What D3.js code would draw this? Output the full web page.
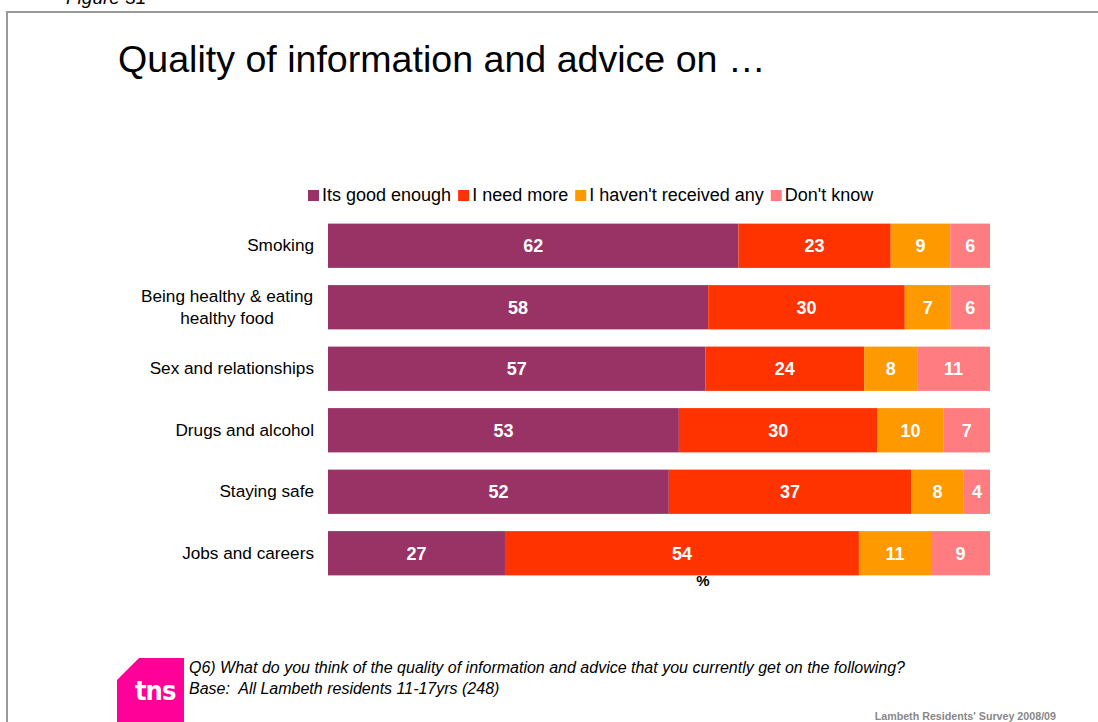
<!DOCTYPE html>
<html>
<head>
<meta charset="utf-8">
<script src="https://cdn.jsdelivr.net/npm/d3@7"></script>
<style>
  html, body { margin: 0; padding: 0; background: #fff; }
  svg { display: block; font-family: "Liberation Sans", Arial, sans-serif; }
  .pre { white-space: pre; }
</style>
</head>
<body>
<svg id="chart" width="1098" height="722"></svg>
<script>
// Survey topics, top to bottom
const categories = [
  "Smoking",
  "Being healthy & eating healthy food",
  "Sex and relationships",
  "Drugs and alcohol",
  "Staying safe",
  "Jobs and careers"
];

// Response options (stack order, left to right)
const responses = ["Its good enough", "I need more", "I haven't received any", "Don't know"];

// Percentages per response, in category order
const goodEnough   = [62, 58, 57, 53, 52, 27];
const needMore     = [23, 30, 24, 30, 37, 54];
const notReceived  = [9, 7, 8, 10, 8, 11];
const dontKnow     = [6, 6, 11, 7, 4, 9];

const colors = ["#993366", "#FF3300", "#FF9900", "#FF7C80"];

const seriesValues = [goodEnough, needMore, notReceived, dontKnow];
const rows = categories.map((c, i) => {
  const r = { category: c };
  responses.forEach((k, j) => { r[k] = seriesValues[j][i]; });
  return r;
});

const svg = d3.select("#chart");

// Page frame and figure caption
svg.append("text")
  .attr("x", 66).attr("y", 4)
  .attr("font-size", 19).attr("font-style", "italic").attr("fill", "#000")
  .text("Figure 31");
svg.append("rect")
  .attr("x", 7).attr("y", 12).attr("width", 1110).attr("height", 740)
  .attr("fill", "none").attr("stroke", "#999").attr("stroke-width", 2);

// Title
svg.append("text")
  .attr("x", 118).attr("y", 72)
  .attr("font-size", 37.6).attr("fill", "#000")
  .text("Quality of information and advice on \u2026");

// Scales
const x = d3.scaleLinear().domain([0, 1]).range([328, 990]);
const y = d3.scaleBand().domain(categories).range([215, 584]).paddingInner(0.28).paddingOuter(0.14);

const stack = d3.stack().keys(responses).offset(d3.stackOffsetExpand);
const layers = stack(rows);

const g = svg.append("g");
layers.forEach((layer, li) => {
  const lg = g.append("g").attr("fill", colors[li]);
  lg.selectAll("rect")
    .data(layer)
    .join("rect")
    .attr("x", d => x(d[0]))
    .attr("y", d => y(d.data.category))
    .attr("width", d => x(d[1]) - x(d[0]))
    .attr("height", y.bandwidth());
  g.append("g").selectAll("text")
    .data(layer)
    .join("text")
    .attr("x", d => (x(d[0]) + x(d[1])) / 2)
    .attr("y", d => y(d.data.category) + y.bandwidth() / 2)
    .attr("dy", "0.36em")
    .attr("text-anchor", "middle")
    .attr("font-size", 18).attr("font-weight", "bold").attr("fill", "#fff")
    .text(d => d.data[layer.key]);
});

// Category axis (labels only)
const yAxis = d3.axisLeft(y).tickSize(0).tickPadding(14);
const axisG = svg.append("g").attr("transform", "translate(328,0)").call(yAxis);
axisG.select(".domain").remove();
axisG.selectAll("text")
  .attr("font-size", 17.2).attr("fill", "#000")
  .attr("font-family", "\"Liberation Sans\", Arial, sans-serif")
  .each(function(d) {
    const t = d3.select(this);
    if (d === "Being healthy & eating healthy food") {
      t.text(null);
      t.attr("text-anchor", "middle");
      const cx = -14 - 87;
      t.append("tspan").attr("x", cx).attr("dy", "-0.3em").text("Being healthy & eating");
      t.append("tspan").attr("x", cx).attr("dy", "1.25em").text("healthy food");
    }
  });

// Axis unit
svg.append("text")
  .attr("x", 703).attr("y", 586)
  .attr("text-anchor", "middle")
  .attr("font-size", 15).attr("font-weight", "bold").attr("fill", "#000")
  .text("%");

// Legend
const legend = svg.append("g").attr("transform", "translate(308,195)");
let lx = 0;
responses.forEach((k, i) => {
  const item = legend.append("g").attr("transform", `translate(${lx},0)`);
  item.append("rect").attr("x", 0).attr("y", -5).attr("width", 11).attr("height", 11).attr("fill", colors[i]);
  const t = item.append("text").attr("x", 14).attr("y", 0).attr("dy", "0.36em")
    .attr("font-size", 18).attr("fill", "#000").text(k);
  lx += 14 + t.node().getComputedTextLength() + 7;
});

// Logo
const logo = svg.append("g").attr("transform", "translate(117,658)");
logo.append("path")
  .attr("d", "M22,0 L67,0 L67,66 L0,66 L0,22 Z")
  .attr("fill", "#FF0099");
logo.append("text")
  .attr("x", 18).attr("y", 42)
  .attr("font-size", 27).attr("font-weight", "bold").attr("fill", "#fff")
  .attr("font-family", "\"DejaVu Sans Condensed\", \"Liberation Sans Narrow\", sans-serif")
  .attr("letter-spacing", -1)
  .text("tns");

// Footnotes
svg.append("text")
  .attr("x", 189).attr("y", 673)
  .attr("font-size", 16).attr("font-style", "italic").attr("fill", "#000")
  .text("Q6) What do you think of the quality of information and advice that you currently get on the following?");
svg.append("text")
  .attr("class", "pre")
  .attr("x", 189).attr("y", 694)
  .attr("font-size", 16).attr("font-style", "italic").attr("fill", "#000")
  .text("Base:  All Lambeth residents 11-17yrs (248)");
svg.append("text")
  .attr("x", 1056).attr("y", 720)
  .attr("text-anchor", "end")
  .attr("font-size", 10.7).attr("font-weight", "bold").attr("fill", "#888")
  .text("Lambeth Residents' Survey 2008/09");
</script>
</body>
</html>
